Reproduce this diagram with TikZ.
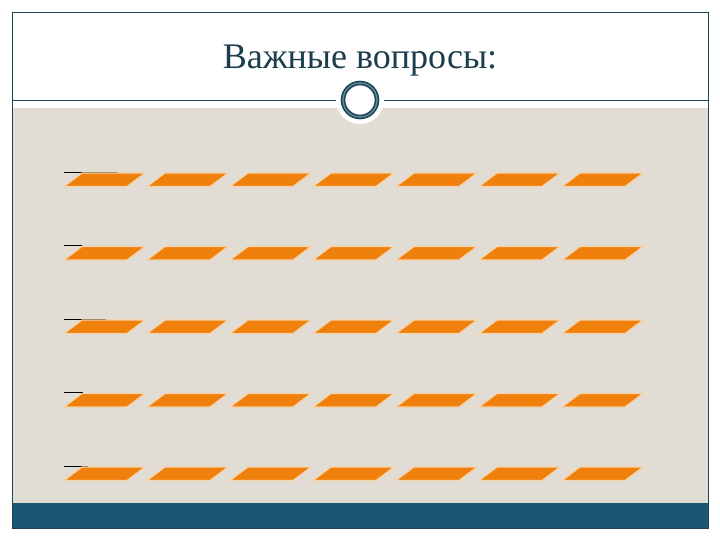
\documentclass[tikz,border=0pt]{standalone}
\usepackage{fontspec}
\setmainfont{Liberation Serif}
\definecolor{slidebeige}{HTML}{E2DDD4}
\definecolor{bandblue}{HTML}{1B5675}
\definecolor{framedark}{HTML}{1E4555}
\definecolor{ringmid}{HTML}{5E8797}
\definecolor{titleblue}{HTML}{1C3D4E}
\definecolor{barorange}{HTML}{F0800C}
\definecolor{barglow}{HTML}{F6D2A8}
\begin{document}
\begin{tikzpicture}[x=1pt,y=-1pt]
  \tikzstyle{every node}+=[inner sep=0pt]
  \tikzstyle{frameline}=[draw=framedark, line width=0.8pt]
  \tikzstyle{bar}=[fill=barorange, draw=barglow, line width=1.2pt, line join=round]
  \tikzstyle{mark line}=[draw=black, line width=0.7pt]
  % page and slide
  \fill[white] (0,0) rectangle (720,540);
  \fill[slidebeige] (12,108) rectangle (708,503);
  \fill[bandblue] (12,503) rectangle (708,528);
  \draw[frameline] (12,12) rectangle (708,528);
  \draw[frameline] (12,100) -- (708,100);
  % title
  \node[font=\fontsize{36}{40}\selectfont, text=titleblue, anchor=base] (title) at (360,69) {Важные вопросы:};
  % badge on the rule
  \node[circle, fill=white, minimum size=48pt] (badge) at (360,100) {};
  \draw[draw=framedark, double=ringmid, line width=1.6pt, double distance=1.4pt] (badge.center) circle (17);
  % rows of bars
  \foreach \r/\w in {0/54,1/18,2/42,3/19,4/24} {
    \pgfmathsetmacro{\yt}{173+73.5*\r}
    \pgfmathsetmacro{\yb}{\yt+13.5}
    \draw[mark line] (64,\yt-0.8) -- ++(\w,0);
    \foreach \c in {0,...,6} {
      \pgfmathsetmacro{\xo}{64+83*\c}
      \filldraw[bar] (\xo,\yb) -- (\xo+63,\yb) -- (\xo+81,\yt) -- (\xo+18,\yt) -- cycle;
    }
  }
\end{tikzpicture}
\end{document}
